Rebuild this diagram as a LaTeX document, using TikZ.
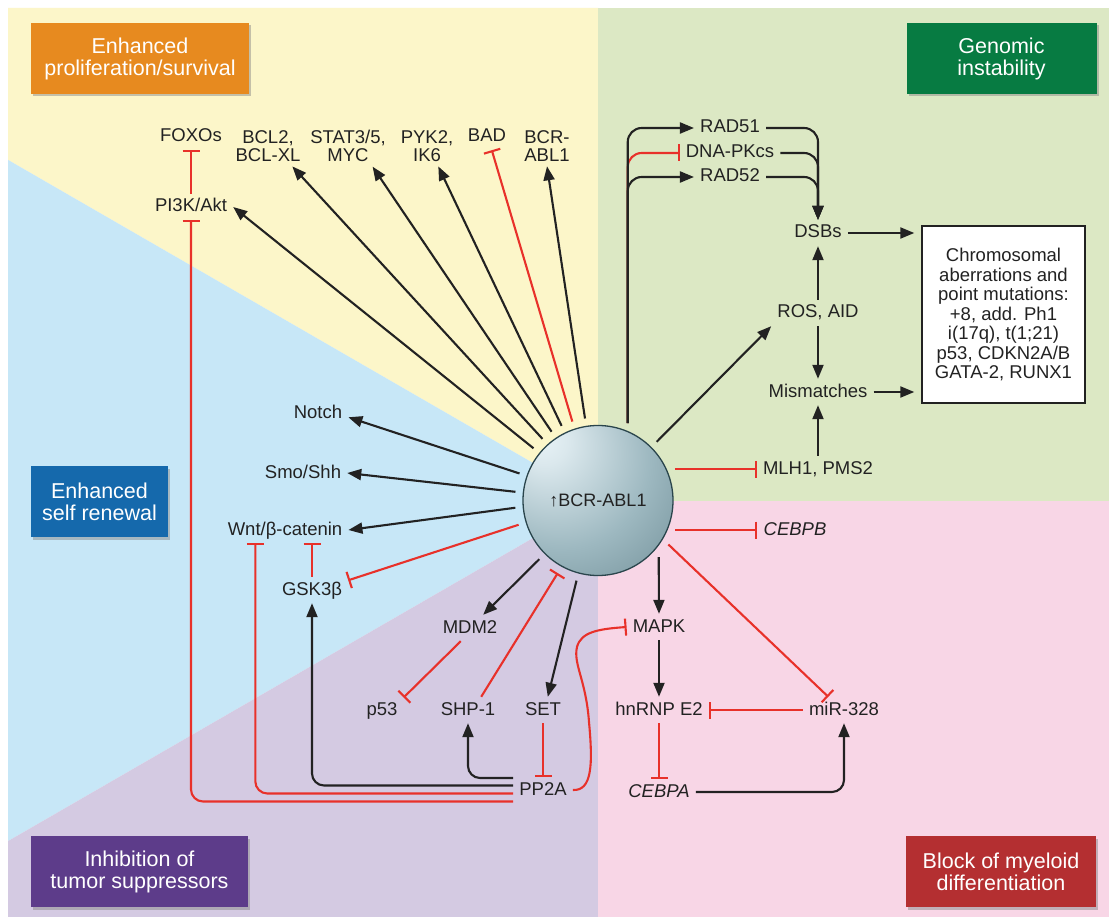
\documentclass[tikz,border=0pt]{standalone}
\usepackage{fontspec}
\setmainfont{Liberation Sans}
\usepackage{xcolor}
\usetikzlibrary{arrows.meta,shadows}

\definecolor{bgyellow}{HTML}{FCF6C9}
\definecolor{bggreen}{HTML}{DCE8C4}
\definecolor{bgblue}{HTML}{C7E7F7}
\definecolor{bgpurple}{HTML}{D4CAE2}
\definecolor{bgpink}{HTML}{F8D6E6}
\definecolor{boxorange}{HTML}{E78A1F}
\definecolor{boxgreen}{HTML}{077B42}
\definecolor{boxblue}{HTML}{1569AC}
\definecolor{boxpurple}{HTML}{5D3C8A}
\definecolor{boxred}{HTML}{B42F31}
\definecolor{ink}{HTML}{222222}
\definecolor{inhred}{HTML}{E8312A}
\definecolor{ballhi}{HTML}{EAF4F8}
\definecolor{ballmid}{HTML}{9DB8C0}
\definecolor{balldark}{HTML}{5F7E87}
\definecolor{ballrim}{HTML}{2A454C}

\pgfdeclareradialshading{bcrball}{\pgfpoint{-20bp}{22bp}}{%
  color(0bp)=(ballhi); color(8bp)=(ballhi!80!ballmid); color(30bp)=(ballmid);
  color(58bp)=(balldark); color(80bp)=(balldark)}

\begin{document}
\begin{tikzpicture}[x=1pt, y=-1pt,
    every node/.style={font=\fontsize{18.5}{18.3}\selectfont, text=ink},
    lbl/.style={inner xsep=6pt, inner ysep=4.5pt, text height=13.5pt, text depth=3.5pt},
    lbltwo/.style={inner xsep=6pt, inner ysep=4.5pt, align=center},
    titlebox/.style={text=white, align=center, inner sep=0pt, minimum height=71pt,
        font=\fontsize{21.5}{22}\selectfont,
        drop shadow={shadow xshift=2pt, shadow yshift=-2.5pt, opacity=.45}},
    act/.style={draw=ink, line width=2.1pt, -{Triangle[length=14pt, width=11pt]}},
    inh/.style={draw=inhred, line width=2.1pt, -{Bar[width=17pt]}}]

        \useasboundingbox (0,0) rectangle (1109,917);
        \fill[white] (0,0) rectangle (1109,917);

        % 球心
        \coordinate (O) at (598,500.5);

        % 背景的五个区域
        \fill[bgyellow] (8,8) -- (598,8) -- (O) -- (8,159.9) -- cycle;
        \fill[bgblue] (8,159.9) -- (O) -- (8,841.1) -- cycle;
        \fill[bgpurple] (8,841.1) -- (O) -- (598,917) -- (8,917) -- cycle;
        \fill[bggreen] (598,8) rectangle (1109,500.5);
        \fill[bgpink] (598,500.5) rectangle (1109,917);

        % 标题框
        \node[titlebox, fill=boxorange, minimum width=218pt] (tprolif) at (140,58.5) {Enhanced\\proliferation/survival};
        \node[titlebox, fill=boxgreen, minimum width=190pt] (tgenom) at (1001.5,58.5) {Genomic\\instability};
        \node[titlebox, fill=boxblue, minimum width=137pt] (tself) at (99.5,501.5) {Enhanced\\self renewal};
        \node[titlebox, fill=boxpurple, minimum width=217pt] (tinhib) at (139.5,871.5) {Inhibition of\\tumor suppressors};
        \node[titlebox, fill=boxred, minimum width=190pt] (tblock) at (1001,871.5) {Block of myeloid\\differentiation};

        % 中心的球
        \node[circle, minimum size=150pt, inner sep=0pt, outer sep=8pt, shading=bcrball,
              draw=ballrim, line width=1.3pt, font=\fontsize{18}{18}\selectfont] (bcr) at (O) {\textbf{↑}BCR-ABL1};

        % 上方的标签
        \node[lbl] (foxos) at (191,137) {FOXOs};
        \node[lbltwo] (bcl) at (268,146) {BCL2,\\BCL-XL};
        \node[lbltwo] (stat) at (348,146) {STAT3/5,\\MYC};
        \node[lbltwo] (pyk) at (427,146) {PYK2,\\IK6};
        \node[lbl] (bad) at (487,137) {BAD};
        \node[lbltwo] (bcrabl) at (547,146) {BCR-\\ABL1};
        \node[lbl] (pi3k) at (191,207) {PI3K/Akt};

        % 左边的标签
        \node[lbl] (notch) at (318,413) {Notch};
        \node[lbl] (smo) at (303,473) {Smo/Shh};
        \node[lbl] (wnt) at (285,530) {Wnt/β-catenin};
        \node[lbl] (gsk) at (312,590) {GSK3β};

        % 下方的标签
        \node[lbl] (mdm2) at (470,628) {MDM2};
        \node[lbl] (p53) at (382,710) {p53};
        \node[lbl] (shp) at (468,710) {SHP-1};
        \node[lbl] (setp) at (543,710) {SET};
        \node[lbl] (pp2a) at (543,790) {PP2A};
        \node[lbl] (mapk) at (659,627) {MAPK};
        \node[lbl] (hnrnp) at (659,710) {hnRNP E2};
        \node[lbl] (mir) at (844,710) {miR-328};
        \node[lbl] (cebpa) at (659,792) {\itshape CEBPA};
        \node[lbl] (cebpb) at (795,530) {\itshape CEBPB};

        % 右边的标签
        \node[lbl] (mlh) at (818,469) {MLH1, PMS2};
        \node[lbl] (mism) at (818,392) {Mismatches};
        \node[lbl] (ros) at (818,313) {ROS, AID};
        \node[lbl] (dsbs) at (818,233) {DSBs};
        \node[lbl] (rad51) at (730,128) {RAD51};
        \node[lbl] (dnapk) at (730,153) {DNA-PKcs};
        \node[lbl] (rad52) at (730,177) {RAD52};
        \node[draw=ink, line width=1.4pt, fill=white, align=center, minimum width=163pt, minimum height=177pt,
              font=\fontsize{18.5}{19.5}\selectfont] (chrom) at (1003.5,314.5)
              {Chromosomal\\aberrations and\\point mutations:\\+8, add. Ph1\\i(17q), t(1;21)\\p53, CDKN2A/B\\GATA-2, RUNX1};

        % 上方的箭头
        \draw[act] (bcr.141) -- (pi3k.east);
        \draw[act] (bcr.132) -- (bcl.-40);
        \draw[act] (bcr.124) -- (stat.-40);
        \draw[act] (bcr.116) -- (pyk.-61);
        \draw[inh] (bcr.108) -- (bad.-70);
        \draw[act] (bcr.99) -- (bcrabl.south);
        \draw[inh] (pi3k.north) -- (foxos.south);

        % 左边的箭头
        \draw[act] (bcr.161) -- (notch.-8);
        \draw[act] (bcr.174) -- (smo.east);
        \draw[act] (bcr.185) -- (wnt.east);
        \draw[inh] (bcr.197) -- (gsk.15);
        \draw[inh] (gsk.north) -- (gsk.north |- wnt.south);

        % 下方的箭头
        \draw[act] (bcr.225) -- (mdm2.45);
        \draw[inh] (mdm2.-125) -- (p53.30);
        \draw[inh] (shp.45) -- (bcr.241);
        \draw[act] (bcr.255) -- (setp.70);
        \draw[inh] (setp.south) -- (pp2a.north);
        \draw[act, rounded corners=12pt] ([yshift=12pt]pp2a.west) -| (shp.south);
        \draw[act, rounded corners=12pt] ([yshift=4.5pt]pp2a.west) -| (gsk.south);
        \draw[inh, rounded corners=12pt] ([yshift=-3.5pt]pp2a.west) -| (wnt.-156);
        \draw[inh, rounded corners=12pt] ([yshift=-11.5pt]pp2a.west) -| (pi3k.south);
        \draw[inh] (pp2a.east) .. controls (592,791) and (593,765) .. (589,722)
                   .. controls (586,680) and (573,664) .. (577,647)
                   .. controls (581,632) and (598,629) .. (mapk.west);

        % 右下的箭头
        \draw[act] (bcr.317) -- (mapk.north);
        \draw[act] (mapk.south) -- (hnrnp.north);
        \draw[inh] (hnrnp.south) -- (cebpa.north);
        \draw[inh] (mir.west) -- (hnrnp.east);
        \draw[inh] (bcr.328) -- (mir.140);
        \draw[act, rounded corners=12pt] (cebpa.east) -| (mir.south);
        \draw[inh] (bcr.339) -- (bcr.339 -| cebpb.west);

        % 右上的箭头
        \draw[inh, rounded corners=14pt] (bcr.69) |- (dnapk.west);
        \draw[act, rounded corners=14pt] (bcr.69) |- (rad51.west);
        \draw[act, rounded corners=14pt] (bcr.69) |- (rad52.west);
        \draw[act, rounded corners=14pt] (rad51.east) -| (dsbs.north);
        \draw[act, rounded corners=14pt] (dnapk.east) -| (dsbs.north);
        \draw[act, rounded corners=14pt] (rad52.east) -| (dsbs.north);
        \draw[act] (bcr.45) -- (ros.south west);
        \draw[act] (ros.north) -- (dsbs.south);
        \draw[act] (ros.south) -- (mism.north);
        \draw[act] (mlh.north) -- (mism.south);
        \draw[inh] (bcr.22) -- (bcr.22 -| mlh.west);
        \draw[act, shorten >=7pt] (dsbs.east) -- (dsbs.east -| chrom.west);
        \draw[act, shorten >=7pt] (mism.east) -- (mism.east -| chrom.west);
    \end{tikzpicture}
\end{document}
